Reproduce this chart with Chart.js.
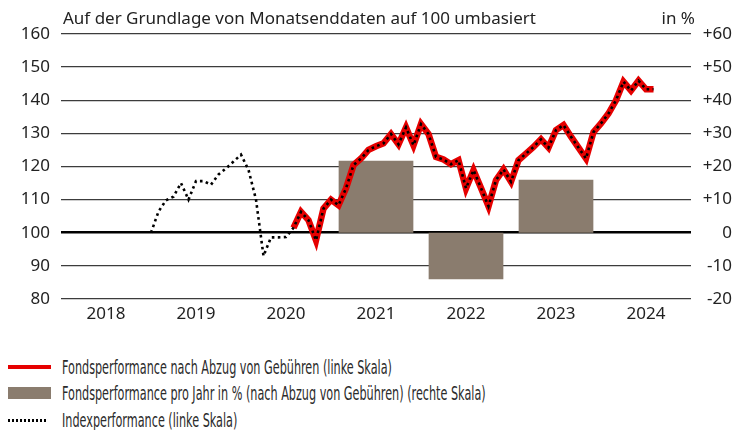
<!DOCTYPE html>
<html>
<head>
<meta charset="utf-8">
<script src="https://cdn.jsdelivr.net/npm/chart.js@4"></script>
<style>
  body { margin: 0; background: #fff; width: 744px; height: 430px; overflow: hidden; }
  #wrap { position: relative; width: 744px; height: 340px; }
  #legend { position: absolute; left: 0; top: 354px; width: 744px; }
  .row { position: absolute; left: 0; height: 26px; width: 744px; }
  .sym { position: absolute; left: 8px; width: 43px; }
  .txt { position: absolute; left: 62px; top: 0; line-height: 26px; font-family: "DejaVu Sans Condensed", sans-serif;
         font-size: 19px; color: #2b2b2b; white-space: nowrap; transform-origin: left center; transform: scaleX(0.657); }
</style>
</head>
<body>
<div id="wrap"><canvas id="myChart" width="744" height="340"></canvas></div>
<div id="legend"></div>
<script>
// years on the axis and the yearly fund return (right scale, %)
const years = ['2018', '2019', '2020', '2021', '2022', '2023', '2024'];
const yearReturns = [null, null, null, 21.7, -14.0, 16.0, null];

// monthly values, rebased to 100 (left scale)
const indexStart = '2018-12';
const indexValues = [100, 106.4, 109.8, 110.9, 115.0, 110.0, 115.6, 115.6, 114.5, 117.6,
  119.4, 121.5, 123.6, 119.0, 110.0, 93.0, 98.6, 98.6, 98.7,
  101.5, 106.3, 103.8, 97.7, 107.3, 110.0, 108.3, 113.4, 120.4, 122.4,
  125.0, 126.1, 127.0, 129.8, 126.7, 131.8, 126.4, 132.8, 129.8, 122.9,
  122.1, 120.7, 121.9, 113.4, 118.9, 113.5, 108.0, 115.9, 119.1, 115.4,
  121.9, 123.9, 125.9, 128.2, 125.7, 131.0, 132.5, 129.0, 125.7, 122.4,
  130.4, 133.0, 136.0, 140.0, 145.6, 142.9, 145.9, 143.3, 143.3];

const fundStart = '2020-07';
const fundValues = [101.5, 106.3, 103.8, 97.7, 107.3, 110.0, 108.3, 113.4, 120.4, 122.4,
  125.0, 126.1, 127.0, 129.8, 126.7, 131.8, 126.4, 132.8, 129.8, 122.9,
  122.1, 120.7, 121.9, 113.4, 118.9, 113.5, 108.0, 115.9, 119.1, 115.4,
  121.9, 123.9, 125.9, 128.2, 125.7, 131.0, 132.5, 129.0, 125.7, 122.4,
  130.4, 133.0, 136.0, 140.0, 145.6, 142.9, 145.9, 143.3, 143.3];

const leftMin = 80, leftMax = 160;
const rightMin = -20, rightMax = 60;

const titleText = 'Auf der Grundlage von Monatsenddaten auf 100 umbasiert';
const unitText = 'in %';
const fundLabel = 'Fondsperformance nach Abzug von Gebühren (linke Skala)';
const barLabel = 'Fondsperformance pro Jahr in % (nach Abzug von Gebühren) (rechte Skala)';
const indexLabel = 'Indexperformance (linke Skala)';

const RED = '#e60000';
const BROWN = '#8a7c6e';
const TXT = '#222';

// month-end position counted in months from start of 2018
function toPoints(start, values) {
  const [y, m] = start.split('-').map(Number);
  const base = (y - 2018) * 12 + m;
  return values.map((v, i) => ({ x: base + i, y: v }));
}

const titlePlugin = {
  id: 'titles',
  afterDraw(chart) {
    const ctx = chart.ctx;
    ctx.save();
    ctx.fillStyle = TXT;
    ctx.font = '17px "Noto Sans"';
    ctx.textBaseline = 'alphabetic';
    ctx.textAlign = 'left';
    ctx.fillText(titleText, 63, 24);
    ctx.textAlign = 'right';
    ctx.fillText(unitText, 695, 24);
    ctx.restore();
  }
};

const ctx = document.getElementById('myChart');
const chart = new Chart(ctx, {
  type: 'bar',
  data: {
    labels: years,
    datasets: [
      {
        type: 'line', label: indexLabel, data: toPoints(indexStart, indexValues),
        xAxisID: 'x2', yAxisID: 'y', borderColor: '#000', borderWidth: 2.6,
        borderDash: [2.6, 3.4], pointRadius: 0, tension: 0, order: 0, borderCapStyle: 'butt'
      },
      {
        type: 'line', label: fundLabel, data: toPoints(fundStart, fundValues),
        xAxisID: 'x2', yAxisID: 'y', borderColor: RED, borderWidth: 6.5,
        pointRadius: 0, tension: 0, order: 1
      },
      {
        type: 'bar', label: barLabel, data: yearReturns, xAxisID: 'x', yAxisID: 'y2',
        backgroundColor: BROWN, barPercentage: 0.83, categoryPercentage: 1.0,
        grouped: false, order: 2
      }
    ]
  },
  options: {
    responsive: false,
    animation: false,
    devicePixelRatio: 1,
    layout: { padding: { top: 34, left: 0, right: 12, bottom: 0 } },
    plugins: { legend: { display: false }, tooltip: { enabled: false } },
    scales: {
      x: {
        type: 'category', position: 'bottom', offset: true,
        grid: { display: false, drawTicks: false }, border: { display: false },
        ticks: { color: TXT, font: { family: 'Noto Sans', size: 17 }, padding: 5 },
        afterFit: s => { s.height = 41; }
      },
      x2: { type: 'linear', min: 0, max: 84, offset: false, display: false, grid: { offset: false } },
      y: {
        position: 'left', min: leftMin, max: leftMax,
        border: { display: false },
        grid: {
          drawTicks: false,
          color: c => c.tick && c.tick.value === 100 ? '#000' : '#3c3c3c',
          lineWidth: c => c.tick && c.tick.value === 100 ? 2.6 : 1.3
        },
        ticks: { stepSize: 10, color: TXT, font: { family: 'Noto Sans', size: 17 }, padding: 11 },
        afterFit: s => { s.width = 61; }
      },
      y2: {
        position: 'right', min: rightMin, max: rightMax,
        border: { display: false }, grid: { display: false, drawTicks: false },
        ticks: {
          stepSize: 10, color: TXT, font: { family: 'Noto Sans', size: 17 }, padding: 2,
          crossAlign: 'far',
          callback: v => v > 0 ? '+' + v : String(v)
        },
        afterFit: s => { s.width = 41; }
      }
    }
  },
  plugins: [titlePlugin]
});

// legend below the chart, in the reference order
const legendOrder = [
  { ds: 1, kind: 'line', top: 0 },
  { ds: 2, kind: 'box', top: 26 },
  { ds: 0, kind: 'dots', top: 53 }
];
const legend = document.getElementById('legend');
legendOrder.forEach(item => {
  const ds = chart.data.datasets[item.ds];
  const row = document.createElement('div');
  row.className = 'row';
  row.style.top = item.top + 'px';
  const sym = document.createElement('div');
  sym.className = 'sym';
  if (item.kind === 'line') {
    sym.style.top = '11px'; sym.style.height = '4px'; sym.style.background = ds.borderColor;
  } else if (item.kind === 'box') {
    sym.style.top = '7px'; sym.style.height = '12px'; sym.style.background = ds.backgroundColor;
  } else {
    sym.style.top = '12px'; sym.style.height = '3px'; sym.style.width = '40px';
    sym.style.background = 'repeating-linear-gradient(90deg, #000 0 2px, transparent 2px 4px)';
  }
  const txt = document.createElement('div');
  txt.className = 'txt';
  txt.textContent = ds.label;
  row.appendChild(sym);
  row.appendChild(txt);
  legend.appendChild(row);
});
</script>
</body>
</html>
